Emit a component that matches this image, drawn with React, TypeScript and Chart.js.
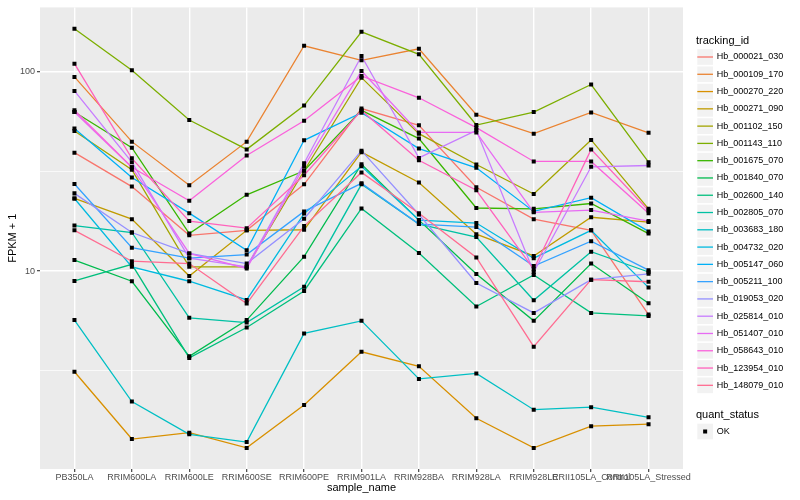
import React, { useEffect, useRef } from "react";
import { Chart, registerables } from "chart.js";

Chart.register(...registerables);

const categories = [
  "PB350LA",
  "RRIM600LA",
  "RRIM600LE",
  "RRIM600SE",
  "RRIM600PE",
  "RRIM901LA",
  "RRIM928BA",
  "RRIM928LA",
  "RRIM928LE",
  "RRII105LA_Control",
  "RRII105LA_Stressed",
];

const trackingIds = [
  "Hb_000021_030",
  "Hb_000109_170",
  "Hb_000270_220",
  "Hb_000271_090",
  "Hb_001102_150",
  "Hb_001143_110",
  "Hb_001675_070",
  "Hb_001840_070",
  "Hb_002600_140",
  "Hb_002805_070",
  "Hb_003683_180",
  "Hb_004732_020",
  "Hb_005147_060",
  "Hb_005211_100",
  "Hb_019053_020",
  "Hb_025814_010",
  "Hb_051407_010",
  "Hb_058643_010",
  "Hb_123954_010",
  "Hb_148079_010",
];

const seriesColors = [
  "#F8766D", "#EA8331", "#D89000", "#C09B00", "#A3A500",
  "#7CAE00", "#39B600", "#00BB4E", "#00BF7D", "#00C1A3",
  "#00BFC4", "#00BAE0", "#00B0F6", "#35A2FF", "#9590FF",
  "#C77CFF", "#E76BF3", "#FA62DB", "#FF62BC", "#FF6C91",
];

// FPKM + 1 values, one array per tracking_id, in category order
const hb000021_030 = [39.2, 26.5, 15.1, 16.0, 27.2, 65.2, 53.7, 26.3, 18.2, 16.0, 6.05];
const hb000109_170 = [93.9, 44.5, 26.9, 44.5, 134.5, 113.7, 129.9, 60.7, 48.8, 62.3, 49.3];
const hb000270_220 = [3.13, 1.44, 1.55, 1.3, 2.13, 3.94, 3.33, 1.83, 1.3, 1.67, 1.71];
const hb000271_090 = [23.1, 18.2, 9.44, 16.0, 16.1, 39.4, 27.8, 15.3, 11.9, 18.6, 17.6];
const hb001102_150 = [50.3, 32.2, 10.5, 10.5, 31.8, 93.1, 48.8, 34.2, 24.3, 45.4, 20.5];
const hb001143_110 = [163.5, 101.4, 57.1, 40.7, 67.5, 157.9, 121.8, 53.9, 62.6, 86.0, 35.1];
const hb001675_070 = [62.6, 41.5, 15.4, 24.1, 31.8, 63.8, 46.1, 20.7, 20.5, 21.8, 15.4];
const hb001840_070 = [11.35, 8.89, 3.74, 5.68, 11.8, 34.3, 18.0, 9.66, 5.63, 10.9, 6.9];
const hb002600_140 = [8.92, 10.8, 3.67, 5.21, 7.95, 20.6, 12.3, 6.64, 9.55, 6.17, 5.96];
const hb002805_070 = [16.9, 15.6, 5.83, 5.52, 8.35, 27.2, 17.2, 14.8, 7.14, 12.5, 9.89];
const hb003683_180 = [5.68, 2.22, 1.52, 1.39, 4.87, 5.63, 2.88, 3.07, 2.02, 2.08, 1.85];
const hb004732_020 = [23.1, 10.5, 8.89, 7.17, 19.4, 33.5, 18.0, 17.4, 11.6, 16.0, 8.26];
const hb005147_060 = [51.8, 29.4, 19.5, 12.7, 45.2, 62.1, 41.1, 32.9, 19.9, 23.3, 15.8];
const hb005211_100 = [27.3, 13.1, 11.6, 12.1, 19.9, 27.5, 17.2, 16.6, 10.6, 14.1, 10.1];
const hb019053_020 = [24.5, 15.6, 12.25, 10.9, 18.3, 40.1, 19.2, 8.71, 6.17, 9.05, 9.69];
const hb025814_010 = [79.9, 35.1, 11.6, 10.5, 34.7, 119.5, 36.9, 50.7, 9.89, 33.3, 33.8];
const hb051407_010 = [62.6, 33.1, 12.25, 10.3, 33.4, 100.6, 49.5, 49.5, 19.7, 20.2, 17.8];
const hb058643_010 = [64.0, 33.1, 22.5, 37.9, 56.6, 95.0, 73.8, 52.3, 35.4, 35.4, 19.5];
const hb123954_010 = [109.4, 36.7, 17.8, 16.4, 30.2, 63.8, 35.9, 25.4, 10.2, 40.7, 20.1];
const hb148079_010 = [16.0, 11.2, 10.9, 6.87, 16.8, 31.2, 19.5, 11.7, 4.18, 9.05, 8.84];

const seriesValues = [
  hb000021_030, hb000109_170, hb000270_220, hb000271_090, hb001102_150,
  hb001143_110, hb001675_070, hb001840_070, hb002600_140, hb002805_070,
  hb003683_180, hb004732_020, hb005147_060, hb005211_100, hb019053_020,
  hb025814_010, hb051407_010, hb058643_010, hb123954_010, hb148079_010,
];

const yMajorTicks = [10, 100];
const yMinorTicks = [3.16228, 31.6228];
const quantStatus = ["OK"];

const FONT = '"Liberation Sans", Arial, Helvetica, sans-serif';

const panelBackground = {
  id: "panelBackground",
  beforeDraw(chart: any) {
    const { ctx, chartArea } = chart;
    if (!chartArea) return;
    ctx.save();
    ctx.fillStyle = "#EBEBEB";
    ctx.fillRect(chartArea.left, chartArea.top, chartArea.right - chartArea.left, chartArea.bottom - chartArea.top);
    ctx.restore();
  },
};

const ggLegend = {
  id: "ggLegend",
  afterDraw(chart: any) {
    const ctx = chart.ctx;
    const x0 = 696.5;
    const key = 17.28;
    ctx.save();
    ctx.textAlign = "left";
    ctx.fillStyle = "#000000";
    ctx.font = `11px ${FONT}`;
    ctx.textBaseline = "alphabetic";
    ctx.fillText("tracking_id", 696, 44);
    ctx.font = `9px ${FONT}`;
    ctx.textBaseline = "middle";
    trackingIds.forEach((id, i) => {
      const cy = 57 + key * i;
      ctx.fillStyle = "#F2F2F2";
      ctx.fillRect(x0 + 0.8, cy - key / 2 + 0.8, key - 1.6, key - 1.6);
      ctx.strokeStyle = seriesColors[i];
      ctx.lineWidth = 1.3;
      ctx.beginPath();
      ctx.moveTo(x0 + 0.8, cy);
      ctx.lineTo(x0 + key - 0.8, cy);
      ctx.stroke();
      ctx.fillStyle = "#000000";
      ctx.fillText(id, 716.7, cy);
    });
    ctx.font = `11px ${FONT}`;
    ctx.textBaseline = "alphabetic";
    ctx.fillText("quant_status", 696, 417.5);
    ctx.font = `9px ${FONT}`;
    ctx.textBaseline = "middle";
    quantStatus.forEach((q, i) => {
      const cy = 431.5 + key * i;
      ctx.fillStyle = "#F2F2F2";
      ctx.fillRect(x0 + 0.8, cy - key / 2 + 0.8, key - 1.6, key - 1.6);
      ctx.fillStyle = "#000000";
      ctx.fillRect(x0 + key / 2 - 2, cy - 2, 4, 4);
      ctx.fillText(q, 716.7, cy);
    });
    ctx.restore();
  },
};

export default function App() {
  const canvasRef = useRef<HTMLCanvasElement | null>(null);

  useEffect(() => {
    if (!canvasRef.current) return;
    const lineSets: any[] = seriesValues.map((vals, i) => ({
      label: trackingIds[i],
      data: vals.map((v, j) => ({ x: j, y: v })),
      borderColor: seriesColors[i],
      backgroundColor: seriesColors[i],
      borderWidth: 1.3,
      pointRadius: 0,
      pointHoverRadius: 0,
      tension: 0,
      fill: false,
      order: 100 - i,
    }));
    const pointSet: any = {
      label: "OK",
      data: seriesValues.flatMap((vals) => vals.map((v, j) => ({ x: j, y: v }))),
      showLine: false,
      pointStyle: "rect",
      pointRadius: 2.83,
      pointHoverRadius: 2.83,
      pointBackgroundColor: "#000000",
      pointBorderColor: "#000000",
      pointBorderWidth: 0,
      borderWidth: 0,
      order: 0,
    };

    const isMajor = (ctx: any) => ctx.tick && yMajorTicks.includes(ctx.tick.value);

    const chart = new Chart(canvasRef.current, {
      type: "line",
      data: { datasets: [...lineSets, pointSet] },
      options: {
        animation: false,
        responsive: false,
        events: [],
        layout: { padding: { left: 0, right: 117, top: 5, bottom: 0 } },
        plugins: {
          legend: { display: false },
          tooltip: { enabled: false },
        },
        scales: {
          x: {
            type: "linear",
            min: -0.6,
            max: 10.6,
            afterBuildTicks: (scale: any) => {
              scale.ticks = categories.map((_, i) => ({ value: i }));
            },
            afterFit: (scale: any) => {
              scale.height = 31;
            },
            ticks: {
              autoSkip: false,
              maxRotation: 0,
              minRotation: 0,
              padding: 0,
              color: "#4D4D4D",
              font: { family: FONT, size: 9 },
              callback: (v: any) => categories[Math.round(Number(v))] ?? "",
            },
            grid: {
              color: "#FFFFFF",
              lineWidth: 1.4,
              drawTicks: true,
              tickLength: 3,
              tickColor: "#333333",
              tickWidth: 1.1,
            },
            border: { display: false },
            title: {
              display: true,
              text: "sample_name",
              color: "#000000",
              font: { family: FONT, size: 11 },
              padding: { top: 0, bottom: 5 },
            },
          },
          y: {
            type: "logarithmic",
            min: 1.019,
            max: 209.4,
            afterBuildTicks: (scale: any) => {
              scale.ticks = [yMinorTicks[0], yMajorTicks[0], yMinorTicks[1], yMajorTicks[1]].map((v) => ({ value: v }));
            },
            afterFit: (scale: any) => {
              scale.width = 40;
            },
            ticks: {
              autoSkip: false,
              padding: 2,
              color: "#4D4D4D",
              font: { family: FONT, size: 9 },
              callback: (v: any) => (yMajorTicks.includes(Number(v)) ? String(v) : ""),
            },
            grid: {
              color: "#FFFFFF",
              lineWidth: (ctx: any) => (isMajor(ctx) ? 1.4 : 0.7),
              drawTicks: true,
              tickLength: 3,
              tickColor: (ctx: any) => (isMajor(ctx) ? "#333333" : "rgba(0,0,0,0)"),
              tickWidth: 1.1,
            },
            border: { display: false },
            title: {
              display: true,
              text: "FPKM + 1",
              color: "#000000",
              font: { family: FONT, size: 11 },
              padding: { top: 6, bottom: 0 },
            },
          },
        },
      },
      plugins: [panelBackground, ggLegend],
    } as any);

    return () => chart.destroy();
  }, []);

  return (
    <div style={{ position: "absolute", left: 0, top: 0, width: 800, height: 500, background: "#FFFFFF" }}>
      <canvas ref={canvasRef} width={800} height={500} style={{ display: "block", width: 800, height: 500 }} />
    </div>
  );
}
